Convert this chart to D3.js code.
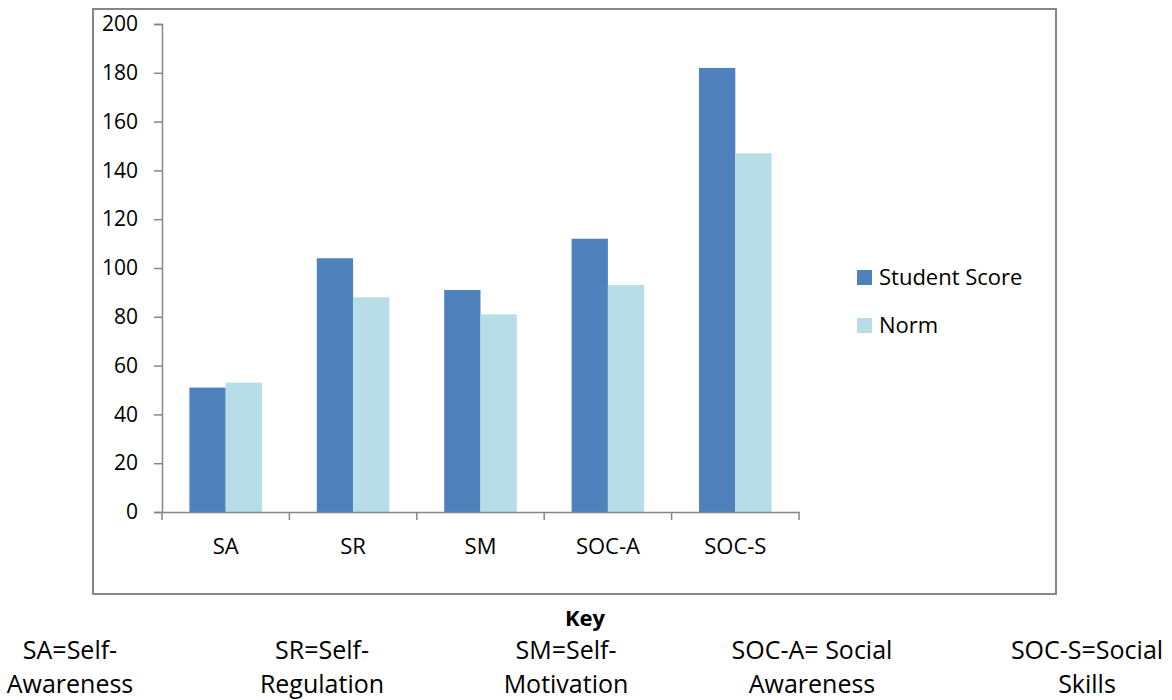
<!DOCTYPE html>
<html>
<head>
<meta charset="utf-8">
<script src="https://cdn.jsdelivr.net/npm/d3@7"></script>
<style>
  body { margin: 0; background: #fff; }
  svg { display: block; font-family: "Open Sans", sans-serif; }
</style>
</head>
<body>
<svg id="chart" width="1172" height="700"></svg>
<script>
// data
const categories = ['SA', 'SR', 'SM', 'SOC-A', 'SOC-S'];
const seriesNames = ['Student Score', 'Norm'];
const studentScore = [51, 104, 91, 112, 182];
const norm = [53, 88, 81, 93, 147];
const yTicks = [0, 20, 40, 60, 80, 100, 120, 140, 160, 180, 200];
const keyLines = [
  ['SA=Self-', 'Awareness'],
  ['SR=Self-', 'Regulation'],
  ['SM=Self-', 'Motivation'],
  ['SOC-A= Social', 'Awareness'],
  ['SOC-S=Social', 'Skills'],
];

const colors = ['#4f81bd', '#b7dee8'];
const svg = d3.select('#chart');

// outer frame
svg.append('rect')
  .attr('x', 93).attr('y', 9)
  .attr('width', 963).attr('height', 585)
  .attr('fill', 'none')
  .attr('stroke', '#868686')
  .attr('stroke-width', 2);

const plot = { left: 162, right: 799, top: 24, bottom: 512 };

const x = d3.scaleBand().domain(categories).range([plot.left, plot.right]);
const x1 = d3.scaleBand().domain(seriesNames).range([0, 72.6]);
const y = d3.scaleLinear().domain([0, 200]).range([plot.bottom, plot.top]);

// bars
const series = [studentScore, norm];
series.forEach((vals, si) => {
  svg.append('g').selectAll('rect')
    .data(vals)
    .join('rect')
    .attr('x', (d, i) => x(categories[i]) + (x.bandwidth() - 72.6) / 2 + x1(seriesNames[si]))
    .attr('width', x1.bandwidth())
    .attr('y', d => y(d))
    .attr('height', d => y(0) - y(d))
    .attr('fill', colors[si]);
});

// y axis
const yAxis = svg.append('g')
  .attr('transform', `translate(${plot.left},0)`)
  .call(d3.axisLeft(y).tickValues(yTicks).tickSize(8).tickPadding(16));
yAxis.select('.domain').attr('stroke', '#868686').attr('stroke-width', 1.5);
yAxis.selectAll('.tick line').attr('stroke', '#868686').attr('stroke-width', 1.5);
yAxis.selectAll('.tick text')
  .attr('font-size', 21).attr('fill', '#000')
  .attr('font-family', '"Open Sans", sans-serif');

// x axis
const xAxis = svg.append('g')
  .attr('transform', `translate(0,${plot.bottom})`)
  .call(d3.axisBottom(x).tickSize(0).tickPadding(26));
xAxis.select('.domain').attr('stroke', '#868686').attr('stroke-width', 1.5);
xAxis.selectAll('.tick text')
  .attr('font-size', 22).attr('fill', '#000')
  .attr('font-family', '"Open Sans", sans-serif');
// boundary ticks between categories
const bounds = categories.map(c => x(c)).concat([plot.right]);
xAxis.selectAll('.bound')
  .data(bounds)
  .join('line')
  .attr('class', 'bound')
  .attr('x1', d => d).attr('x2', d => d)
  .attr('y1', 0).attr('y2', 8)
  .attr('stroke', '#868686').attr('stroke-width', 1.5);

// legend
const legend = svg.append('g').attr('transform', 'translate(857,270)');
seriesNames.forEach((name, i) => {
  const g = legend.append('g').attr('transform', `translate(0,${i * 48})`);
  g.append('rect').attr('width', 15).attr('height', 15).attr('fill', colors[i]);
  g.append('text')
    .attr('x', 22).attr('y', 15)
    .attr('font-size', 22)
    .attr('fill', '#000')
    .text(name);
});

// key
svg.append('text')
  .attr('x', 585).attr('y', 626)
  .attr('text-anchor', 'middle')
  .attr('font-size', 22)
  .attr('font-weight', 'bold')
  .text('Key');

const keyX = [70, 322, 566, 812, 1087];
keyLines.forEach((lines, i) => {
  lines.forEach((t, j) => {
    svg.append('text')
      .attr('x', keyX[i]).attr('y', 659 + j * 34)
      .attr('text-anchor', 'middle')
      .attr('font-size', 25)
      .attr('fill', '#000')
      .text(t);
  });
});
</script>
</body>
</html>
